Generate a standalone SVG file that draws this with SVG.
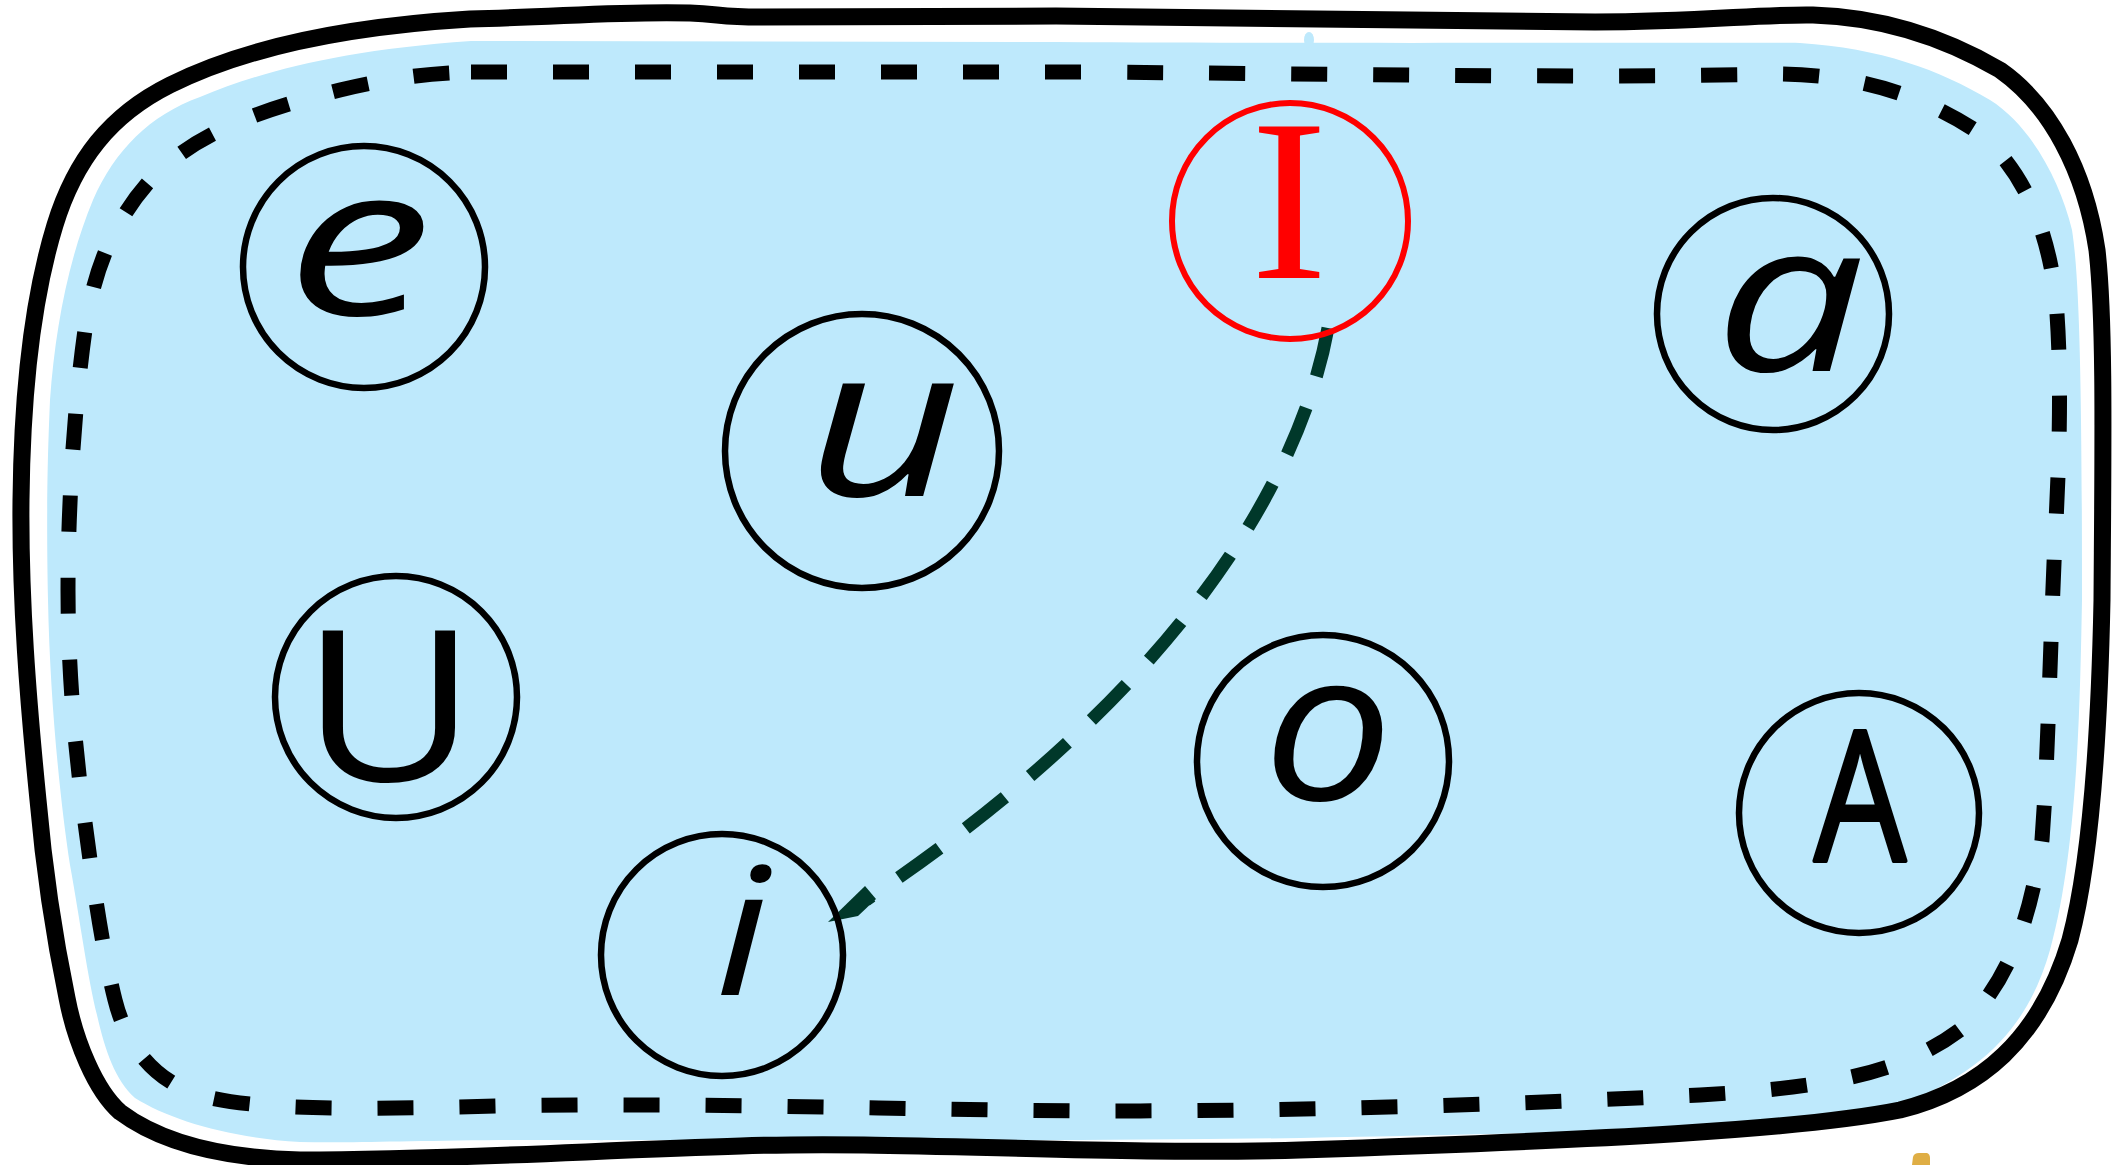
<svg xmlns="http://www.w3.org/2000/svg" width="2113" height="1165" viewBox="0 0 2113 1165">
<style>
.node{fill:none;stroke:#000;stroke-width:6.5}
.lc{font-family:"Open Sans","DejaVu Sans",sans-serif;font-style:italic;font-size:210px;fill:#000;text-anchor:middle}
.uc{font-family:"Open Sans","DejaVu Sans",sans-serif;font-size:210px;fill:#000;text-anchor:middle}
.edge{fill:none;stroke:#00382a;stroke-width:13;stroke-dasharray:50 33}
</style>
<rect width="2113" height="1165" fill="#fff"/>
<g id="container">
<path d="M 471 41 L 1056 42 C 1400 44, 1700 42, 1800 43 C 1880 48, 1940 70, 1990 100 C 2030 125, 2060 180, 2072 230 C 2080 280, 2082 400, 2082 600 C 2080 700, 2078 850, 2050 950 C 2030 1020, 1990 1070, 1900 1105 C 1800 1128, 1600 1132, 1300 1138 C 1000 1142, 700 1140, 500 1140 C 400 1141, 350 1143, 300 1142 C 230 1138, 170 1120, 135 1098 C 115 1080, 105 1050, 97 1015 C 88 980, 80 920, 70 865 C 60 800, 50 700, 48 600 C 46 500, 48 450, 50 400 C 55 330, 68 260, 93 200 C 115 150, 150 115, 200 97 C 260 72, 340 50, 471 41 Z" fill="#bee9fc"/>
<ellipse cx="1309" cy="40" rx="5" ry="8" fill="#bee9fc"/>
<path d="M 470 19 C 560 17, 620 11, 690 13 C 720 14, 720 17, 760 17 L 1056 16 C 1300 18, 1450 22, 1595 22 C 1700 22, 1760 14, 1813 15 C 1880 17, 1940 35, 2000 70 C 2050 105, 2085 170, 2097 250 C 2105 320, 2103 450, 2102 600 C 2100 700, 2094 850, 2070 940 C 2040 1040, 1980 1090, 1900 1110 C 1800 1130, 1600 1140, 1300 1150 C 1100 1156, 900 1140, 741 1146 C 600 1150, 450 1160, 300 1160 C 220 1158, 160 1142, 120 1112 C 95 1090, 75 1040, 67 998 C 57 950, 45 880, 38 800 C 28 700, 20 600, 21 500 C 22 400, 32 300, 55 225 C 75 160, 110 115, 170 85 C 230 55, 320 28, 470 19 Z" fill="none" stroke="#000" stroke-width="17" stroke-linejoin="round"/>
<path d="M 471 72 L 1100 72 C 1400 75, 1600 78, 1780 74 C 1860 75, 1920 95, 1975 130 C 2020 165, 2045 220, 2055 290 C 2062 360, 2060 450, 2055 540 C 2050 650, 2048 760, 2042 840 C 2030 920, 2010 980, 1960 1030 C 1900 1075, 1820 1088, 1700 1095 C 1500 1105, 1300 1111, 1100 1111 C 900 1110, 700 1102, 500 1106 C 350 1110, 250 1110, 200 1095 C 150 1080, 125 1040, 115 1000 C 100 940, 90 860, 82 800 C 72 720, 68 650, 68 590 C 68 500, 75 400, 85 330 C 95 260, 120 210, 160 170 C 210 125, 280 105, 340 90 C 390 78, 430 73, 471 72 Z" fill="none" stroke="#000" stroke-width="15" stroke-dasharray="36 46"/>
<path d="M 1912 1165 L 1913 1157 Q 1914 1153 1919 1153 L 1927 1153 Q 1930 1154 1930 1158 L 1930 1165 Z" fill="#dfae45"/>
</g>
<g id="connectors">
<path class="edge" d="M 1328 328 C 1300 480, 1180 690, 866 900"/>
<polygon points="828,922 858,916 876,899 865,886" fill="#00382a"/>
</g>
<g id="node-e"><circle class="node" cx="364" cy="267" r="121"/><text class="lc" transform="translate(359 315) scale(1.4 1)">e</text></g>
<g id="node-u"><circle class="node" cx="862" cy="451" r="137"/><text class="lc" transform="translate(884 496) scale(1.29 1)">u</text></g>
<g id="node-I"><circle cx="1290" cy="221" r="118" fill="none" stroke="#ff0000" stroke-width="6"/><text x="1289" y="278" font-family="Liberation Serif, serif" font-size="230" fill="#ff0000" text-anchor="middle">I</text></g>
<g id="node-a"><circle class="node" cx="1773" cy="314" r="116"/><text class="lc" transform="translate(1790 371) scale(1.27 1)">a</text></g>
<g id="node-U"><circle class="node" cx="396" cy="697" r="121"/><text class="uc" transform="translate(389 781) scale(1.15 1)">U</text></g>
<g id="node-i"><circle class="node" cx="722" cy="955" r="121"/><text class="lc" transform="translate(742 995) scale(1.2 1)" style="font-size:178px">i</text></g>
<g id="node-o"><circle class="node" cx="1323" cy="761" r="126"/><text class="lc" transform="translate(1328 800) scale(1.1 1)">o</text></g>
<g id="node-A"><circle class="node" cx="1859" cy="813" r="120"/><text class="uc" transform="translate(1860 861) scale(0.8 1)" style="font-size:182px;stroke:#000;stroke-width:4;stroke-linejoin:round">A</text></g>
</svg>
